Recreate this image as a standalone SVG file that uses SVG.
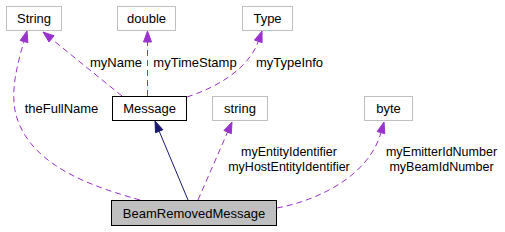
<svg xmlns="http://www.w3.org/2000/svg" width="505" height="232" viewBox="0 0 505 232">
<style>
  .ext rect { fill: #ffffff; stroke: #bfbfbf; stroke-width: 1; }
  .cls rect { fill: #ffffff; stroke: #000000; stroke-width: 1; }
  .cur rect { fill: #bfbfbf; stroke: #000000; stroke-width: 1; }
  text { font-family: "Liberation Sans", Arial, sans-serif; font-size: 13px; fill: #000000; }
  .node text { text-anchor: middle; }
  .use { fill: none; stroke: #9a32cd; stroke-width: 1; stroke-dasharray: 6,4; }
  .usehead { fill: #9a32cd; stroke: #9a32cd; stroke-width: 1; }
  .inh { fill: none; stroke: #191970; stroke-width: 1; }
  .inhhead { fill: #191970; stroke: #191970; stroke-width: 1; }
  .lbl2 { font-size: 12.5px; }
</style>
<rect x="0" y="0" width="505" height="232" fill="#ffffff"/>
<g id="connectors">
  <path class="inh" d="M188,200 L159.2,131.2"/>
  <polygon class="inhhead" points="155,121 162.9,129.7 155.5,132.7"/>

  <path class="use" d="M140,200 C90,186 30,165 16,115 C10,92 17,65 24,41.5"/>
  <polygon class="usehead" points="27,31 27.9,42.6 20.1,40.5"/>

  <path class="use" d="M122,96 L51.5,38.9"/>
  <polygon class="usehead" points="43,32 54,35.8 49,42"/>

  <path class="use" d="M147.5,96 L147.5,42"/>
  <polygon class="usehead" points="147.5,31 151.5,42 143.5,42"/>

  <path class="use" d="M187,97 C215,88 248,70 258.3,41.4"/>
  <polygon class="usehead" points="262,31 262.1,42.7 254.5,40.1"/>

  <path class="use" d="M198,200 L227.6,132.1"/>
  <polygon class="usehead" points="232,122 231.3,133.7 223.9,130.5"/>

  <path class="use" d="M277,208 C320,200 369,175 381,132.6"/>
  <polygon class="usehead" points="384,122 384.85,133.7 377.15,131.5"/>

  <text x="61.5" y="112.5" text-anchor="middle">theFullName</text>
  <text x="116" y="66.5" text-anchor="middle">myName</text>
  <text x="195" y="66.5" text-anchor="middle">myTimeStamp</text>
  <text x="289.5" y="66.5" text-anchor="middle">myTypeInfo</text>
  <text class="lbl2" x="289" y="156" text-anchor="middle">myEntityIdentifier</text>
  <text class="lbl2" x="289" y="171" text-anchor="middle">myHostEntityIdentifier</text>
  <text class="lbl2" x="441.5" y="156" text-anchor="middle">myEmitterIdNumber</text>
  <text class="lbl2" x="441.5" y="171" text-anchor="middle">myBeamIdNumber</text>
</g>
<g id="node-String" class="node ext">
  <rect x="6.5" y="6.5" width="55" height="24"/>
  <text x="34" y="23">String</text>
</g>
<g id="node-double" class="node ext">
  <rect x="117.5" y="6.5" width="58" height="24"/>
  <text x="146.5" y="23">double</text>
</g>
<g id="node-Type" class="node ext">
  <rect x="242.5" y="6.5" width="50" height="24"/>
  <text x="267.5" y="23">Type</text>
</g>
<g id="node-Message" class="node cls">
  <rect x="112.5" y="96.5" width="74" height="24"/>
  <text x="149.5" y="113">Message</text>
</g>
<g id="node-string" class="node ext">
  <rect x="212.5" y="96.5" width="55" height="24"/>
  <text x="240" y="113">string</text>
</g>
<g id="node-byte" class="node ext">
  <rect x="364.5" y="96.5" width="48" height="24"/>
  <text x="388.5" y="113">byte</text>
</g>
<g id="node-BeamRemovedMessage" class="node cur">
  <rect x="111.5" y="200.5" width="165" height="25"/>
  <text x="194" y="217.5">BeamRemovedMessage</text>
</g>
</svg>
